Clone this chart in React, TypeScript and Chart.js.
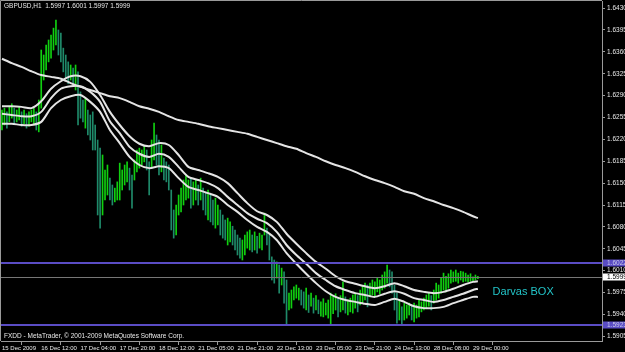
import React, { useEffect, useRef } from 'react';
import { Chart, registerables } from 'chart.js';

Chart.register(...registerables);

// ---- data (GBPUSD H1, one value per hourly bar) ----
const barHigh = [
  1.6267, 1.6270, 1.6264, 1.6273, 1.6277, 1.6270, 1.6267, 1.6273, 1.6264, 1.6267,
  1.6261, 1.6264, 1.6267, 1.6270, 1.6264, 1.6283, 1.6363, 1.6355, 1.6371, 1.6379,
  1.6387, 1.6398, 1.6411, 1.6395, 1.6390, 1.6366, 1.6355, 1.6344, 1.6339, 1.6334,
  1.6339, 1.6328, 1.6296, 1.6283, 1.6286, 1.6267, 1.6259, 1.6264, 1.6243, 1.6219,
  1.6206, 1.6195, 1.6171, 1.6179, 1.6158, 1.6147, 1.6142, 1.6152, 1.6182, 1.6171,
  1.6179, 1.6184, 1.6174, 1.6163, 1.6187, 1.6203, 1.6206, 1.6203, 1.6209, 1.6203,
  1.6184, 1.6219, 1.6246, 1.6227, 1.6219, 1.6211, 1.6190, 1.6184, 1.6179, 1.6139,
  1.6107, 1.6115, 1.6131, 1.6142, 1.6155, 1.6163, 1.6155, 1.6158, 1.6152, 1.6155,
  1.6147, 1.6158, 1.6142, 1.6136, 1.6139, 1.6131, 1.6123, 1.6126, 1.6115, 1.6107,
  1.6099, 1.6091, 1.6094, 1.6088, 1.6081, 1.6075, 1.6067, 1.6062, 1.6059, 1.6067,
  1.6072, 1.6075, 1.6067, 1.6072, 1.6065, 1.6070, 1.6067, 1.6102, 1.6078, 1.6067,
  1.6032, 1.6027, 1.6024, 1.6019, 1.6014, 1.6008, 1.5995, 1.5974, 1.5979, 1.5984,
  1.5987, 1.5982, 1.5979, 1.5976, 1.5982, 1.5971, 1.5974, 1.5966, 1.5970, 1.5963,
  1.5960, 1.5965, 1.5958, 1.5963, 1.5974, 1.5970, 1.5973, 1.5966, 1.5970, 1.5992,
  1.5968, 1.5963, 1.5966, 1.5971, 1.5974, 1.5970, 1.5979, 1.5985, 1.5990, 1.5987,
  1.5990, 1.5995, 1.5992, 1.5998, 1.5995, 1.6003, 1.6008, 1.6019, 1.6011, 1.6008,
  1.5987, 1.5974, 1.5963, 1.5952, 1.5958, 1.5955, 1.5958, 1.5953, 1.5958, 1.5955,
  1.5963, 1.5960, 1.5966, 1.5971, 1.5974, 1.5970, 1.5979, 1.5990, 1.5987, 1.5998,
  1.6006, 1.6001, 1.6005, 1.6011, 1.6008, 1.6011, 1.6006, 1.6009, 1.6008, 1.6006,
  1.6003, 1.6005, 1.6000, 1.6003, 1.6001,
];
const barLow = [
  1.6235, 1.6243, 1.6238, 1.6248, 1.6254, 1.6245, 1.6248, 1.6251, 1.6241, 1.6245,
  1.6238, 1.6241, 1.6248, 1.6245, 1.6235, 1.6232, 1.6270, 1.6315, 1.6331, 1.6344,
  1.6350, 1.6363, 1.6371, 1.6355, 1.6344, 1.6328, 1.6318, 1.6309, 1.6315, 1.6305,
  1.6299, 1.6243, 1.6254, 1.6248, 1.6238, 1.6227, 1.6219, 1.6203, 1.6203, 1.6099,
  1.6078, 1.6099, 1.6123, 1.6131, 1.6123, 1.6115, 1.6120, 1.6123, 1.6123, 1.6139,
  1.6147, 1.6152, 1.6139, 1.6110, 1.6155, 1.6168, 1.6174, 1.6179, 1.6184, 1.6171,
  1.6131, 1.6174, 1.6187, 1.6179, 1.6163, 1.6168, 1.6155, 1.6152, 1.6139, 1.6075,
  1.6062, 1.6067, 1.6099, 1.6104, 1.6115, 1.6123, 1.6126, 1.6110, 1.6115, 1.6123,
  1.6115, 1.6123, 1.6107, 1.6099, 1.6091, 1.6088, 1.6083, 1.6078, 1.6083, 1.6067,
  1.6062, 1.6059, 1.6051, 1.6056, 1.6051, 1.6043, 1.6035, 1.6030, 1.6027, 1.6035,
  1.6046, 1.6043, 1.6040, 1.6043, 1.6038, 1.6046, 1.6043, 1.6067, 1.6051, 1.6027,
  1.5995, 1.5990, 1.5998, 1.5974, 1.5987, 1.5958, 1.5923, 1.5947, 1.5950, 1.5963,
  1.5966, 1.5963, 1.5955, 1.5950, 1.5947, 1.5943, 1.5953, 1.5942, 1.5947, 1.5941,
  1.5937, 1.5936, 1.5939, 1.5934, 1.5925, 1.5941, 1.5947, 1.5936, 1.5944, 1.5947,
  1.5942, 1.5939, 1.5944, 1.5942, 1.5950, 1.5944, 1.5955, 1.5958, 1.5963, 1.5952,
  1.5968, 1.5971, 1.5968, 1.5976, 1.5973, 1.5979, 1.5982, 1.5990, 1.5984, 1.5974,
  1.5947, 1.5926, 1.5931, 1.5923, 1.5931, 1.5934, 1.5939, 1.5931, 1.5928, 1.5934,
  1.5936, 1.5944, 1.5947, 1.5950, 1.5953, 1.5947, 1.5958, 1.5963, 1.5966, 1.5974,
  1.5979, 1.5976, 1.5982, 1.5990, 1.5992, 1.5993, 1.5990, 1.5995, 1.5992, 1.5993,
  1.5992, 1.5993, 1.5993, 1.5995, 1.5997,
];

// indicator lines, sampled every 4 bars (bar index in lineBarIndex)
const lineBarIndex = [
  0, 4, 8, 12, 16, 20, 24, 28, 32, 36, 40, 44, 48, 52, 56, 60, 64, 68, 72, 76,
  80, 84, 88, 92, 96, 100, 104, 108, 112, 116, 120, 124, 128, 132, 136, 140, 144, 148, 152, 156,
  160, 164, 168, 172, 176, 180, 184, 188, 192, 194,
];
const envUpper = [
  1.6273, 1.6273, 1.6272, 1.6270, 1.6281, 1.6301, 1.6313, 1.6321, 1.6321, 1.6312,
  1.6291, 1.6264, 1.6243, 1.6225, 1.6213, 1.6209, 1.6214, 1.6211, 1.6195, 1.6176,
  1.6171, 1.6166, 1.6160, 1.6150, 1.6134, 1.6118, 1.6105, 1.6099, 1.6088, 1.6069,
  1.6053, 1.6038, 1.6024, 1.6013, 1.6001, 1.5993, 1.5989, 1.5985, 1.5982, 1.5985,
  1.5990, 1.5985, 1.5979, 1.5976, 1.5974, 1.5976, 1.5981, 1.5987, 1.5992, 1.5993,
];
const envMiddle = [
  1.6261, 1.6259, 1.6257, 1.6257, 1.6264, 1.6286, 1.6301, 1.6305, 1.6305, 1.6296,
  1.6280, 1.6249, 1.6230, 1.6208, 1.6197, 1.6192, 1.6197, 1.6192, 1.6176, 1.6160,
  1.6155, 1.6150, 1.6142, 1.6128, 1.6115, 1.6102, 1.6093, 1.6086, 1.6072, 1.6051,
  1.6035, 1.6021, 1.6006, 1.5995, 1.5985, 1.5979, 1.5974, 1.5971, 1.5968, 1.5973,
  1.5977, 1.5973, 1.5966, 1.5963, 1.5960, 1.5963, 1.5968, 1.5973, 1.5979, 1.5981,
];
const envLower = [
  1.6245, 1.6245, 1.6243, 1.6243, 1.6248, 1.6270, 1.6283, 1.6289, 1.6291, 1.6280,
  1.6264, 1.6235, 1.6214, 1.6192, 1.6179, 1.6174, 1.6177, 1.6174, 1.6158, 1.6144,
  1.6139, 1.6134, 1.6128, 1.6115, 1.6104, 1.6091, 1.6080, 1.6072, 1.6059, 1.6038,
  1.6021, 1.6005, 1.5990, 1.5977, 1.5968, 1.5963, 1.5960, 1.5957, 1.5955, 1.5960,
  1.5965, 1.5960, 1.5953, 1.5950, 1.5950, 1.5952, 1.5958, 1.5963, 1.5968, 1.5968,
];
const maLong = [
  1.6349, 1.6342, 1.6336, 1.6329, 1.6323, 1.6320, 1.6317, 1.6310, 1.6304, 1.6299,
  1.6294, 1.6289, 1.6286, 1.6280, 1.6273, 1.6269, 1.6264, 1.6257, 1.6251, 1.6248,
  1.6245, 1.6241, 1.6238, 1.6235, 1.6232, 1.6229, 1.6224, 1.6219, 1.6214, 1.6209,
  1.6205, 1.6198, 1.6192, 1.6185, 1.6179, 1.6174, 1.6168, 1.6161, 1.6155, 1.6150,
  1.6144, 1.6137, 1.6133, 1.6126, 1.6121, 1.6115, 1.6110, 1.6104, 1.6097, 1.6094,
];

const priceTicks = [
  1.5905, 1.5940, 1.5975, 1.6010, 1.6045, 1.6080, 1.6115, 1.6150,
  1.6185, 1.6220, 1.6255, 1.6290, 1.6325, 1.6360, 1.6395, 1.6430,
];
const timeTickIndex = [0, 16, 32, 48, 64, 80, 96, 112, 128, 144, 160, 176, 192];
const timeTickLabels = [
  '15 Dec 2009', '16 Dec 12:00', '17 Dec 04:00', '17 Dec 20:00', '18 Dec 12:00',
  '21 Dec 05:00', '21 Dec 21:00', '22 Dec 13:00', '23 Dec 05:00', '23 Dec 21:00',
  '24 Dec 13:00', '28 Dec 08:00', '29 Dec 00:00',
];

const boxHigh = 1.6022;
const boxLow = 1.5923;
const bidPrice = 1.5999;
const darvasLabel = 'Darvas BOX';
const darvasBarIndex = 200;
const darvasPrice = 1.5976;
const headerText = 'GBPUSD,H1  1.5997 1.6001 1.5997 1.5999';
const footerText = 'FXDD - MetaTrader, \u00a9 2001-2009 MetaQuotes Software Corp.';

const SMALL_FONT = '"Liberation Sans", Arial, sans-serif';
const AXIS_GRAY = '#9a9a9a';
const BOX_BLUE = '#5a4cc4';

const overlayPlugin = {
  id: 'mtOverlay',
  afterDatasetsDraw(chart: any) {
    const { ctx, chartArea: a, scales } = chart;
    const ys = scales.y;
    const xs = scales.x;
    ctx.save();
    const by = Math.round(ys.getPixelForValue(bidPrice)) + 0.5;
    ctx.strokeStyle = '#777777';
    ctx.lineWidth = 1;
    ctx.beginPath();
    ctx.moveTo(a.left, by);
    ctx.lineTo(a.right, by);
    ctx.stroke();
    ctx.strokeStyle = BOX_BLUE;
    ctx.lineWidth = 2;
    for (const p of [boxHigh, boxLow]) {
      const y = Math.round(ys.getPixelForValue(p));
      ctx.beginPath();
      ctx.moveTo(0, y);
      ctx.lineTo(a.right, y);
      ctx.stroke();
    }
    ctx.font = '11px ' + SMALL_FONT;
    ctx.fillStyle = '#22c4c8';
    ctx.textBaseline = 'middle';
    ctx.textAlign = 'left';
    ctx.fillText(darvasLabel, xs.getPixelForValue(darvasBarIndex), ys.getPixelForValue(darvasPrice));
    ctx.restore();
  },
  afterDraw(chart: any) {
    const { ctx, chartArea: a, scales, width } = chart;
    const ys = scales.y;
    ctx.save();
    ctx.strokeStyle = AXIS_GRAY;
    ctx.lineWidth = 1;
    ctx.beginPath();
    ctx.moveTo(a.left - 0.5, a.bottom);
    ctx.lineTo(a.left - 0.5, a.top - 0.5);
    ctx.lineTo(a.right, a.top - 0.5);
    ctx.stroke();

    ctx.font = '6.5px ' + SMALL_FONT;
    ctx.fillStyle = '#e8e8e8';
    ctx.textBaseline = 'middle';
    ctx.textAlign = 'left';
    ctx.fillText(headerText, 4, 6.5);
    ctx.fillText(footerText, 4, 336);

    const boxes = [
      { p: boxHigh, bg: BOX_BLUE, fg: '#c8c8e8' },
      { p: bidPrice, bg: '#ffffff', fg: '#000000' },
      { p: boxLow, bg: BOX_BLUE, fg: '#c8c8e8' },
    ];
    ctx.font = '6.5px ' + SMALL_FONT;
    for (const b of boxes) {
      const y = ys.getPixelForValue(b.p);
      ctx.fillStyle = b.bg;
      ctx.fillRect(a.right + 1, Math.round(y) - 3.5, width - a.right - 1, 7);
      ctx.fillStyle = b.fg;
      ctx.fillText(b.p.toFixed(4), a.right + 5, y);
    }
    ctx.restore();
  },
};

export default function App() {
  const canvasRef = useRef<HTMLCanvasElement | null>(null);

  useEffect(() => {
    const canvas = canvasRef.current;
    if (!canvas) return;

    const barData = barHigh.map((h, i) => ({ x: i, y: [barLow[i], h] }));
    const barColors = barHigh.map((h, i) => {
      if (i === 0) return '#10d010';
      const mid = (h + barLow[i]) / 2;
      const prevMid = (barHigh[i - 1] + barLow[i - 1]) / 2;
      return mid < prevMid - 0.0004 ? '#1f8a6a' : '#10d010';
    });
    const toLine = (vals: number[]) => lineBarIndex.map((x, k) => ({ x, y: vals[k] }));
    const lineStyle = {
      type: 'line' as const,
      borderColor: '#e4e4e4',
      borderWidth: 2,
      pointRadius: 0,
      tension: 0.25,
      fill: false,
      order: 1,
    };

    const chart = new Chart(canvas, {
      type: 'bar',
      data: {
        datasets: [
          { ...lineStyle, label: 'MA', data: toLine(maLong) } as any,
          { ...lineStyle, label: 'Env upper', data: toLine(envUpper) } as any,
          { ...lineStyle, label: 'Env middle', data: toLine(envMiddle) } as any,
          { ...lineStyle, label: 'Env lower', data: toLine(envLower) } as any,
          {
            type: 'bar',
            label: 'GBPUSD',
            data: barData as any,
            backgroundColor: barColors,
            borderWidth: 0,
            barThickness: 1,
            grouped: false,
            order: 2,
          } as any,
        ],
      },
      options: {
        responsive: false,
        animation: false,
        devicePixelRatio: 1,
        events: [],
        layout: { padding: { left: 1, top: 1, right: 0, bottom: 0 } },
        plugins: { legend: { display: false }, tooltip: { enabled: false } },
        scales: {
          x: {
            type: 'linear',
            position: 'bottom',
            min: -0.4,
            max: 244.6,
            offset: false,
            afterBuildTicks: (scale: any) => {
              scale.ticks = timeTickIndex.map((v) => ({ value: v }));
            },
            afterFit: (scale: any) => {
              scale.height = 11;
              scale.paddingLeft = 0;
              scale.paddingRight = 0;
            },
            ticks: {
              autoSkip: false,
              maxRotation: 0,
              minRotation: 0,
              align: 'start',
              padding: 0,
              color: '#e8e8e8',
              font: { family: SMALL_FONT, size: 6 },
              callback: (v: any) => {
                const k = timeTickIndex.indexOf(Number(v));
                return k >= 0 ? timeTickLabels[k] : '';
              },
            },
            grid: { drawOnChartArea: false, drawTicks: true, tickLength: 4, color: AXIS_GRAY },
            border: { display: true, color: AXIS_GRAY, width: 1 },
          },
          y: {
            type: 'linear',
            position: 'right',
            min: 1.58974,
            max: 1.64414,
            afterBuildTicks: (scale: any) => {
              scale.ticks = priceTicks.map((v) => ({ value: v }));
            },
            afterFit: (scale: any) => {
              scale.width = 23;
              scale.paddingTop = 0;
              scale.paddingBottom = 0;
            },
            ticks: {
              padding: 2,
              color: '#e8e8e8',
              font: { family: SMALL_FONT, size: 6.5 },
              callback: (v: any) => Number(v).toFixed(4),
            },
            grid: { drawOnChartArea: false, drawTicks: true, tickLength: 3, color: AXIS_GRAY },
            border: { display: true, color: AXIS_GRAY, width: 1 },
          },
        },
      },
      plugins: [overlayPlugin],
    });

    return () => chart.destroy();
  }, []);

  return (
    <div style={{ position: 'fixed', left: 0, top: 0, width: 625, height: 352, background: '#000000' }}>
      <canvas ref={canvasRef} width={625} height={352} style={{ display: 'block', width: 625, height: 352 }} />
    </div>
  );
}
